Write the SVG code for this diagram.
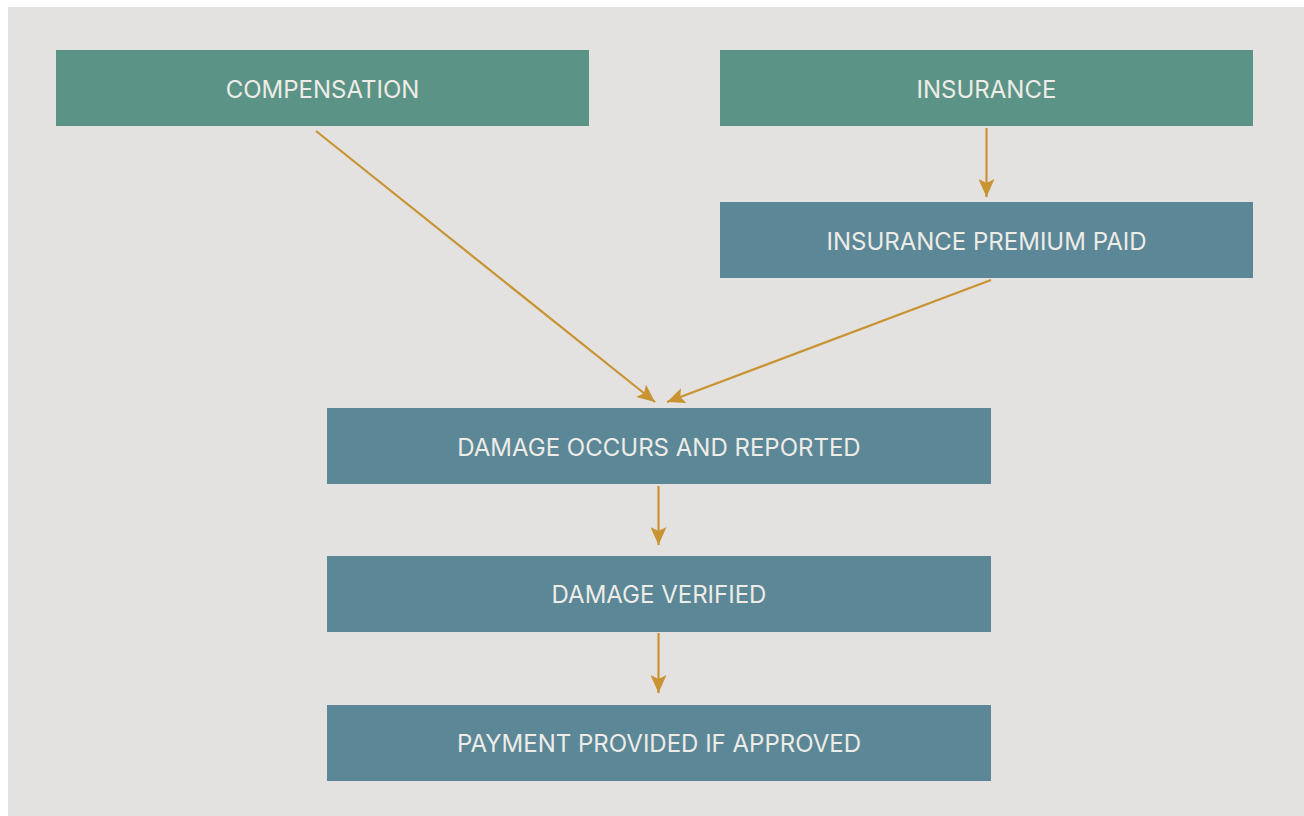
<svg xmlns="http://www.w3.org/2000/svg" width="1304" height="816" viewBox="0 0 1304 816">
<defs>
<style>
.bg{fill:#e3e2e0}
.g{fill:#5b9486}
.b{fill:#5b8797}
.t{font-family:Inter,"Noto Sans",sans-serif;font-size:24px;fill:#eeece7;text-anchor:middle;dominant-baseline:central}
.c{stroke:#c99331;stroke-width:2.2;fill:none;marker-end:url(#ah)}
</style>
<marker id="ah" viewBox="0 0 18 16" refX="18" refY="8" markerWidth="18" markerHeight="16" markerUnits="userSpaceOnUse" orient="auto">
<path d="M0,0 L18,8 L0,16 L4,8 Z" fill="#c99331"/>
</marker>
</defs>
<rect width="1304" height="816" fill="#ffffff"/>
<rect class="bg" x="8" y="7" width="1296" height="809"/>
<g id="connectors">
<line class="c" x1="316" y1="131" x2="655" y2="402"/>
<line class="c" x1="991" y1="280" x2="667" y2="402"/>
<line class="c" x1="986.5" y1="128" x2="986.5" y2="197"/>
<line class="c" x1="658.5" y1="486" x2="658.5" y2="545"/>
<line class="c" x1="658.5" y1="633" x2="658.5" y2="693"/>
</g>
<g id="compensation"><rect class="g" x="56" y="50" width="533" height="76"/><text class="t" x="322.5" y="89">COMPENSATION</text></g>
<g id="insurance"><rect class="g" x="720" y="50" width="533" height="76"/><text class="t" x="986.5" y="89">INSURANCE</text></g>
<g id="premium"><rect class="b" x="720" y="202" width="533" height="76"/><text class="t" x="986.5" y="241">INSURANCE PREMIUM PAID</text></g>
<g id="damage"><rect class="b" x="327" y="408" width="664" height="76"/><text class="t" x="659" y="447">DAMAGE OCCURS AND REPORTED</text></g>
<g id="verified"><rect class="b" x="327" y="556" width="664" height="76"/><text class="t" x="659" y="594">DAMAGE VERIFIED</text></g>
<g id="payment"><rect class="b" x="327" y="705" width="664" height="76"/><text class="t" x="659" y="743">PAYMENT PROVIDED IF APPROVED</text></g>
</svg>
